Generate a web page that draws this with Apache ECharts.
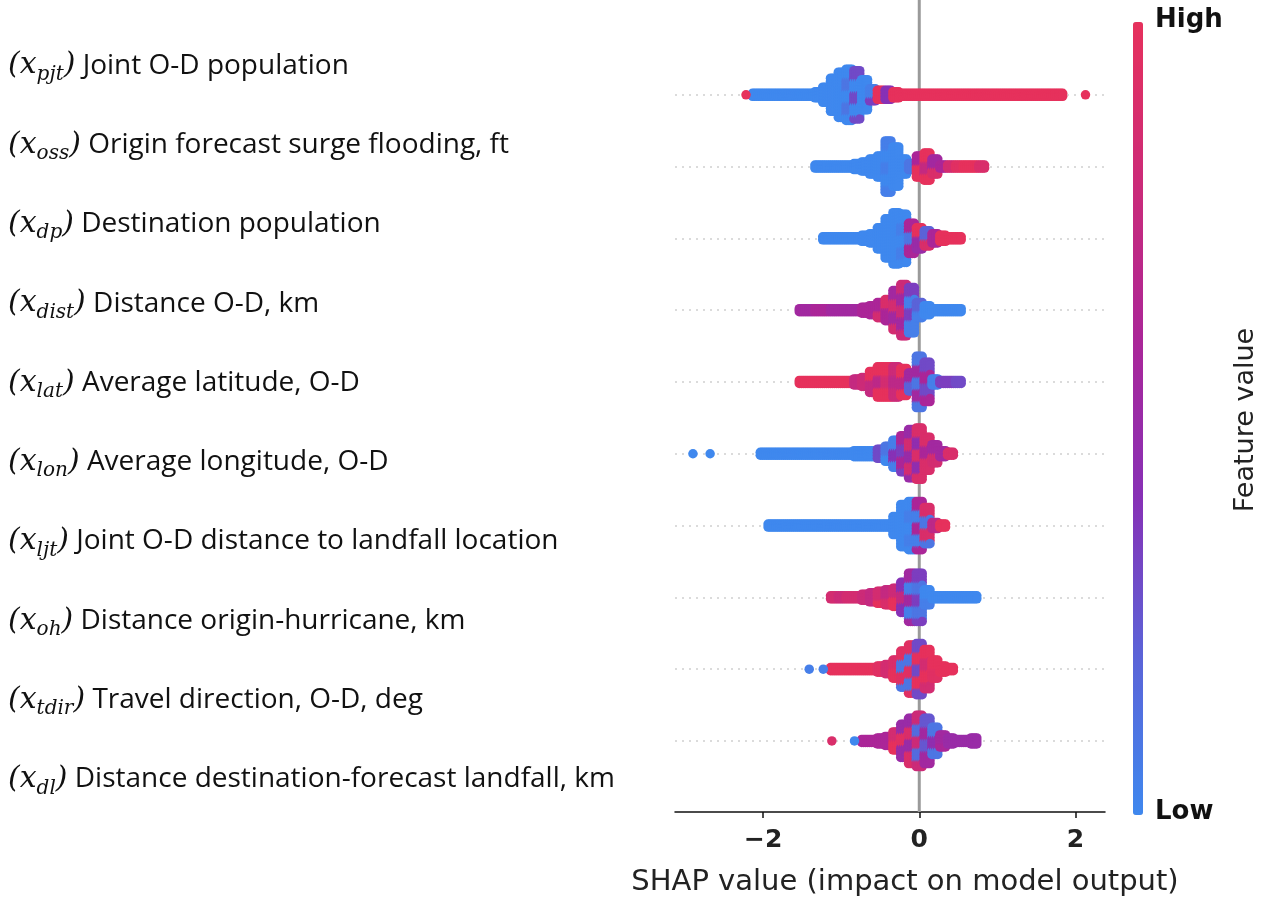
<!DOCTYPE html>
<html><head><meta charset="utf-8">
<script src="https://cdn.jsdelivr.net/npm/echarts@6/dist/echarts.min.js"></script>
<style>html,body{margin:0;padding:0;background:#fff}#c{width:1262px;height:902px}</style>
</head><body><div id="c"></div>
<script>
// ---------- data ----------
const featureSubs = ['pjt','oss','dp','dist','lat','lon','ljt','oh','tdir','dl'];
const featureNames = [
  'Joint O-D population',
  'Origin forecast surge flooding, ft',
  'Destination population',
  'Distance O-D, km',
  'Average latitude, O-D',
  'Average longitude, O-D',
  'Joint O-D distance to landfall location',
  'Distance origin-hurricane, km',
  'Travel direction, O-D, deg',
  'Distance destination-forecast landfall, km'
];
const xTicks = [-2, 0, 2];
const binWidth = 0.1;   // SHAP bin width of the density profiles below
// first SHAP bin of each feature row
const binStart = [-2.1, -1.3, -1.2, -1.5, -1.5, -2.0, -1.9, -1.1, -1.1, -0.7];
// stacked dots per column in each SHAP bin (swarm height)
const binCounts = [
  [2,2,2,2,2,2,2,2,3,6,12,16,18,17,11,5,4,4,3,2,2, 2,2,2,2,2,2,2,2,2,2,2,2,2,2,2,2,2,2,2],
  [2,2,2,2,2,3,4,6,8,18,14,6,3,8,10,6,2,2,2,2,2,2],
  [2,2,2,2,2,3,4,8,14,18,17,11,8,6,4,3,2,2],
  [2,2,2,2,2,2,2,2,3,4,6,8,14,18,16,6,4,2,2,2,2],
  [2,2,2,2,2,2,2,3,4,8,11,11,11,10,7,18,14,3,2,2,2],
  [2,2,2,2,2,2,2,2,2,2,2,2,3,3,3,4,6,10,13,17,18,12,7,3,2],
  [2,2,2,2,2,2,2,2,2,2,2,2,2,2,2,2,7,15,17,17,13,3,2],
  [2,2,2,2,3,4,5,6,7,11,17,17,6,2,2,2,2,2,2],
  [2,2,2,2,2,2,3,4,7,13,17,18,14,7,3,2],
  [2,2,3,4,7,12,16,18,16,10,5,3,2,2,3]
];
// feature value (0 = low, 1 = high) of the two interleaved groups of dots in each bin
const colorA = [
  [0,0,0,0,0,0,0,0,0,0,0,0,0,0,0,0.35,1,0.9,1,1,1, 1,1,1,1,1,1,1,1,1,1,1,1,1,1,1,1,1,1,1],
  [0,0,0,0,0,0,0,0,0,0,0,0,0.1,1,1,0.9,0.6,0.55,0.95,0.6,1,1],
  [0,0,0,0,0,0,0,0,0,0,0,0.1,1,0.9,0.6,0.85,1,1],
  [0.55,0.55,0.6,0.55,0.55,0.6,0.55,0.6,0.6,0.7,0.6,0.6,0.55,0.55,0.35,0.05,0,0,0,0,0],
  [1,1,1,1,1,1,1,0.9,0.8,0.75,1,0.85,0.8,0.7,0.55,0.55,0.3,0.3,0.35,0.1,0.3],
  [0,0,0,0,0,0,0,0,0,0,0,0,0,0,0,0.05,0.1,0.4,0.6,0.85,0.9,0.6,0.55,0.85,0.9],
  [0,0,0,0,0,0,0,0,0,0,0,0,0,0,0,0,0,0,0,0.05,0.9,1,1],
  [0.85,0.85,0.85,0.85,0.8,0.9,0.85,0.9,0.8,0.75,0.55,0.1,0,0,0,0,0,0,0],
  [1,1,1,0.2,1,1,0.95,1,0.9,0.1,0.95,1,1,0.95,1,1],
  [0.6,0.85,0.6,0.9,0.85,0.95,0.5,0.15,0.25,0.45,0.55,0.55,0.5,0.55,0.5]
];
const colorB = [
  [0,0,0,0,0,0,0,0,0,0,0,0,0.1,0.3,0,0.05,0.5,0.4,0.5,1,1, 1,1,1,1,1,1,1,1,1,1,1,1,1,1,1,1,1,1,1],
  [0,0,0,0,0,0,0,0,0,0.05,0,0,0.6,0.6,0.75,0.55,1,0.85,0.55,1,0.65,0.9],
  [0,0,0,0,0,0,0,0,0,0,0.05,0.6,0.5,0.2,0.8,1,0.9,1],
  [0.6,0.55,0.55,0.6,0.55,0.55,0.6,0.55,0.55,0.6,0.85,0.9,0.85,0.8,0.05,0.2,0,0,0,0,0],
  [1,1,1,1,1,1,0.95,0.75,1,1,0.7,1,0.7,1,0.2,0.1,0.6,0.05,0.1,0.35,0.1],
  [0,0,0,0,0,0,0,0,0,0,0,0,0,0,0,0.3,0,0.05,0.35,0.5,0.45,0.9,0.85,0.55,0.75],
  [0,0,0,0,0,0,0,0,0,0,0,0,0,0,0,0,0,0,0.05,0.6,0.1,0.7,0.9],
  [0.85,0.8,0.85,0.85,0.9,0.75,1,0.75,1,0.4,0.05,0.35,0.05,0,0,0,0,0,0],
  [1,1,0.95,1,0.9,1,1,0.85,1,0.95,0.1,0.3,0.85,1,1,1],
  [0.85,0.6,0.9,0.6,1,0.5,0.9,0.8,0.55,0.1,0.6,0.5,0.6,0.5,0.6]
];
// isolated dots
const outlierX = [[-2.22, 2.13], [], [], [], [], [-2.9, -2.68], [], [], [-1.41, -1.23], [-1.12, -0.83]];
const outlierC = [[1, 1], [], [], [], [], [0, 0], [], [], [0.05, 0.05], [0.9, 0]];
const colorStops = ['#3f88ee', '#5b63d8', '#8731b6', '#ab2698', '#cc2b78', '#e6315c'];

// ---------- beeswarm layout: each bin = 4 columns of symmetrically stacked dots ----------
const STACK = 0.042, COLS = 4;
const points = [];
binCounts.forEach((counts, r) => {
  counts.forEach((n, i) => {
    const x0 = binStart[r] + i * binWidth;
    for (let j = 0; j < COLS; j++) {
      const x = x0 + ((j + 0.5) / COLS - 0.5) * binWidth;
      for (let k = 0; k < n; k++) {
        const off = (k - (n - 1) / 2) * STACK;
        const c = (((k >> 2) + i) % 2 === 0) ? colorA[r][i] : colorB[r][i];
        points.push([+x.toFixed(4), r + off, c]);
      }
    }
  });
  outlierX[r].forEach((x, j) => points.push([x, r, outlierC[r][j]]));
});

const chart = echarts.init(document.getElementById('c'), null, {renderer: 'canvas'});
chart.setOption({
  backgroundColor: '#fff',
  animation: false,
  grid: [
    {left: 675, right: 157, top: 0, bottom: 89},
    {left: 8, width: 1, top: 26, height: 793}
  ],
  xAxis: [
    {
      type: 'value', gridIndex: 0, min: -3.13, max: 2.38,
      splitLine: {show: false},
      axisLine: {onZero: false, lineStyle: {color: '#111', width: 1.5}},
      axisTick: {customValues: xTicks, length: 6, lineStyle: {color: '#111', width: 1.5}},
      axisLabel: {
        customValues: xTicks, margin: 16,
        fontFamily: 'DejaVu Sans', fontWeight: 'bold', fontSize: 25, color: '#222',
        formatter: v => v < 0 ? '\u2212' + (-v) : String(v)
      },
      name: 'SHAP value (impact on model output)',
      nameLocation: 'middle', nameGap: 56,
      nameTextStyle: {fontFamily: 'DejaVu Sans', fontSize: 29, color: '#222', padding: [0, 0, 0, 30]}
    },
    {type: 'value', gridIndex: 1, show: false}
  ],
  yAxis: [
    {type: 'value', gridIndex: 0, inverse: true, min: -1.32, max: 9.99, show: false},
    {
      type: 'category', gridIndex: 1, inverse: true,
      data: featureNames.map((n, i) => i),
      axisLine: {show: false}, axisTick: {show: false},
      axisLabel: {
        inside: true, margin: 0, interval: 0,
        formatter: (v, i) => '{m|(x}{s|' + featureSubs[i] + '}{m|)}{t| ' + featureNames[i] + '}',
        rich: {
          m: {fontFamily: 'DejaVu Serif', fontStyle: 'italic', fontSize: 30, color: '#111', lineHeight: 40},
          s: {fontFamily: 'DejaVu Serif', fontStyle: 'italic', fontSize: 20, color: '#111', lineHeight: 24, padding: [18, 0, 0, 0]},
          t: {fontFamily: 'Open Sans', fontSize: 28, color: '#111', lineHeight: 40}
        }
      }
    }
  ],
  visualMap: {
    type: 'continuous', min: 0, max: 1, dimension: 2, seriesIndex: 1,
    orient: 'vertical', left: 1133, top: 22, itemWidth: 10, itemHeight: 793,
    padding: 0, calculable: false, text: null, showLabel: false,
    inRange: {color: colorStops}
  },
  series: [
    {
      type: 'line', xAxisIndex: 0, yAxisIndex: 0, z: 1, silent: true,
      data: [[0, -1.32], [0, 9.99]], showSymbol: false,
      lineStyle: {color: '#9a9a9a', width: 3},
      markLine: {
        z: 1, silent: true, symbol: 'none', label: {show: false},
        lineStyle: {color: '#cfcfcf', type: [2, 5], width: 1.5},
        data: featureNames.map((n, i) => ({yAxis: i}))
      }
    },
    {
      type: 'scatter', xAxisIndex: 0, yAxisIndex: 0, z: 10, silent: true,
      symbolSize: 9.5, data: points, progressive: 0,
      itemStyle: {opacity: 1, borderWidth: 0}
    },
    {type: 'scatter', xAxisIndex: 1, yAxisIndex: 1, data: []}
  ],
  graphic: [
    {type: 'text', left: 1155, top: 7, style: {text: 'High', fontFamily: 'DejaVu Sans', fontWeight: 'bold', fontSize: 26, fill: '#111'}},
    {type: 'text', left: 1155, top: 799, style: {text: 'Low', fontFamily: 'DejaVu Sans', fontWeight: 'bold', fontSize: 26, fill: '#111'}},
    {type: 'text', x: 1246, y: 420, rotation: Math.PI / 2,
     style: {text: 'Feature value', fontFamily: 'DejaVu Sans', fontSize: 27, fill: '#222', align: 'center', verticalAlign: 'middle'}}
  ]
});
</script></body></html>
